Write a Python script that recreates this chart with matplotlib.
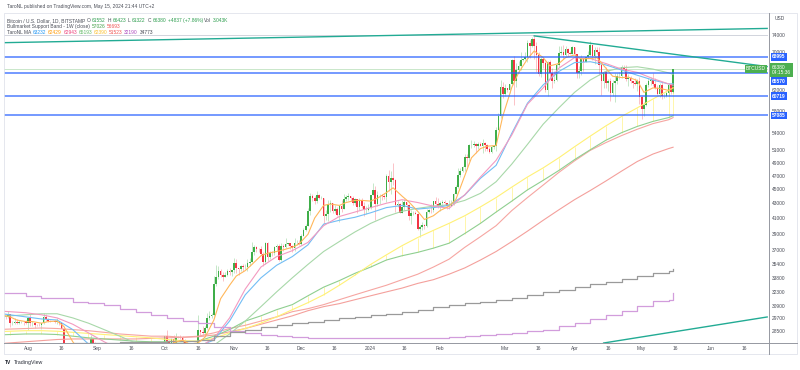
import numpy as np
import pandas as pd
import matplotlib
matplotlib.use("Agg")
import matplotlib.pyplot as plt
import matplotlib.dates as mdates
import matplotlib.transforms as mtransforms
from matplotlib.lines import Line2D
from matplotlib.patches import Rectangle
from matplotlib.ticker import FixedLocator, NullLocator

plt.rcParams['font.family'] = ['Liberation Sans', 'DejaVu Sans']

W, H = 800, 370

# BTCUSD daily candles, BITSTAMP, 21 Jul 2023 .. 15 May 2024
candle_start = '2023-07-21'
first_open = 29800
closes = [
    # Jul
    29910, 29790, 30080, 29180, 29230, 29350, 29220, 29310, 29350, 29280, 29230,
    # Aug
    29700, 29180, 29180, 29070, 29060, 29040, 29180, 29770, 29570, 29440, 29400, 29420, 29290, 29410, 29170, 28700,
    26620, 26050, 26100, 26190, 26120, 26040, 26430, 26160, 26050, 26010, 26090, 26100, 27720, 27300, 25930,
    # Sep
    25800, 25870, 25970, 25820, 25790, 25750, 26240, 25900, 25890, 25830, 25160, 25840, 26220, 26530, 26600,
    26570, 26530, 26760, 27210, 27130, 26570, 26580, 26580, 26250, 26300, 26210, 26350, 27030, 26910, 26970,
    # Oct
    27990, 27500, 27430, 27790, 27410, 27950, 27970, 27940, 27590, 27390, 26870, 26750, 26860, 26860, 27160, 28520,
    28410, 28330, 28720, 29680, 29910, 29990, 33090, 33920, 34500, 34160, 33910, 34090, 34540, 34490, 34640,
    # Nov
    35430, 34940, 34730, 35080, 35040, 35040, 35420, 35630, 36690, 37310, 37130, 37070, 36490, 35550, 37860,
    36160, 36600, 36580, 37380, 37470, 35810, 37420, 37290, 37720, 37790, 37450, 37240, 37830, 37850, 37710,
    # Dec
    38690, 39470, 39970, 41980, 44080, 43770, 43290, 44170, 43720, 43790, 41240, 41480, 42890, 43020, 41940, 42260,
    41360, 42660, 42270, 43650, 43860, 43990, 43720, 43010, 43580, 42520, 43440, 42580, 42070, 42140, 42280,
    # Jan
    44180, 44950, 42840, 44150, 44160, 43970, 43930, 46970, 46110, 46630, 46340, 42780, 42840, 41730, 42510, 43140,
    42740, 41260, 41620, 41670, 41560, 39530, 39840, 40080, 39950, 41810, 42120, 42030, 43300, 42950, 42580,
    # Feb
    43080, 43190, 43000, 42580, 42660, 43090, 44340, 45300, 47130, 47770, 48300, 49950, 49730, 51830, 51920,
    52140, 51650, 52120, 51780, 52260, 51850, 51300, 50740, 51570, 51730, 54490, 57060, 62500, 61170,
    # Mar
    62440, 62030, 63130, 68300, 63780, 66100, 66900, 68300, 68500, 69000, 72100, 71480, 73100, 71400, 69400, 65300,
    68400, 67600, 61900, 67900, 65500, 63800, 64000, 67200, 69900, 69990, 69450, 70780, 69890, 69680, 71300,
    # Apr
    69700, 65500, 65980, 68500, 67850, 68900, 69360, 71620, 69140, 70600, 70060, 67190, 63900, 65700, 63420,
    63800, 61280, 63470, 63820, 64940, 64940, 66840, 66400, 64290, 64480, 63760, 63420, 63110, 63840, 60650,
    # May
    58250, 59120, 62890, 63890, 64030, 63160, 62310, 61190, 63080, 60790, 60800, 61460, 62900, 61552, 66380,
]
highs = [
    30050, 29990, 30330, 30100, 29370, 29680, 29570, 29520, 29410, 29450, 29520,
    29750, 30040, 29420, 29320, 29110, 29170, 29250, 30220, 30120, 29700, 29520, 29450, 29460, 29660, 29450, 29230,
    28790, 26830, 26260, 26300, 26240, 26130, 26800, 26560, 26290, 26100, 26170, 26230, 28140, 27760, 27480,
    26140, 25970, 26120, 26070, 25880, 26000, 26420, 26440, 25930, 26020, 25880, 26530, 26390, 26800, 26870,
    26670, 26620, 27420, 27470, 27380, 27150, 26730, 26630, 26730, 26410, 26380, 26820, 27300, 27230, 27080,
    28060, 28600, 27680, 27840, 28120, 28280, 28040, 28100, 27990, 27740, 27470, 26820, 27100, 26970, 27290, 30000,
    28600, 28980, 28900, 30210, 30350, 30200, 34000, 35200, 35100, 34830, 34470, 34480, 34760, 34870, 34720,
    35980, 35950, 34920, 35250, 35400, 35290, 35900, 35980, 37980, 37520, 37400, 37250, 37420, 36770, 37980,
    37930, 36870, 36850, 37500, 37750, 37650, 37860, 37650, 38430, 37880, 37830, 37570, 38400, 38180, 38150,
    38960, 39670, 40200, 42400, 44480, 44300, 44050, 44710, 44370, 44050, 43800, 42100, 43420, 43410, 43080, 42720,
    42420, 42740, 43480, 44280, 44220, 44400, 43990, 43950, 43790, 43600, 43680, 43790, 43120, 42610, 42890,
    44200, 45900, 45500, 44770, 44330, 44240, 44480, 47220, 47890, 47690, 48970, 46500, 43250, 43080, 43390, 43560,
    43200, 42930, 42130, 41880, 41890, 41670, 40140, 40500, 40260, 42200, 42230, 42840, 43320, 43850, 43730,
    43260, 43480, 43390, 43100, 43500, 43400, 44480, 45590, 48180, 48150, 48550, 50360, 50370, 52040, 52820,
    52570, 52160, 52360, 52480, 52960, 52370, 52050, 51550, 51960, 51950, 54920, 57560, 64000, 63650,
    63200, 62400, 63240, 68500, 69200, 67650, 67950, 69950, 68600, 70000, 72800, 72900, 73600, 73800, 72350, 70000,
    68900, 68900, 68100, 68000, 68200, 66600, 65900, 67600, 71500, 71500, 71700, 71500, 70900, 70300, 71370,
    71300, 69700, 66900, 69300, 68700, 69000, 70300, 72700, 71700, 71200, 71200, 71300, 67900, 65900, 66800,
    64300, 64450, 64100, 65400, 65400, 65700, 67200, 67200, 67100, 65300, 64800, 63900, 64400, 64200, 64700,
    60800, 59600, 63300, 64500, 64600, 65500, 64400, 62900, 63300, 63500, 61400, 61800, 63400, 63100, 66423,
]
lows = [
    29720, 29640, 29730, 28860, 29050, 29100, 29080, 29120, 29260, 29030, 29110,
    28600, 28970, 28960, 28760, 28950, 28970, 28700, 29110, 29380, 29340, 29340, 29360, 29260, 29100, 29070, 28690,
    25200, 25620, 25800, 25960, 25850, 25370, 25800, 25860, 25790, 25980, 25980, 25880, 25920, 27050, 25660,
    25350, 25720, 25820, 25650, 25580, 25370, 25610, 25650, 25800, 25600, 24900, 25150, 25770, 26130, 26220,
    26480, 26420, 26390, 26680, 26830, 26400, 26480, 26520, 26150, 25990, 26100, 26100, 26340, 26700, 26880,
    26950, 27330, 27190, 27230, 27350, 27200, 27860, 27730, 27270, 27320, 26560, 26540, 26690, 26820, 26830, 27120,
    28100, 28150, 28190, 28610, 29460, 29690, 29880, 32900, 33710, 33880, 33460, 33880, 34040, 34080, 34050,
    34340, 34300, 34110, 34560, 34550, 34740, 34550, 35140, 35600, 36400, 36770, 36770, 36340, 35100, 35370,
    35700, 35920, 36240, 36420, 36800, 35660, 35650, 36900, 37260, 37600, 37150, 36720, 36900, 37630, 37590,
    37620, 38640, 39270, 39970, 41410, 43350, 42850, 43100, 43600, 43600, 40220, 40680, 40630, 41800, 41680, 41700,
    41270, 40540, 41840, 42200, 43330, 43420, 43300, 42790, 42740, 41680, 42100, 42330, 41300, 41530, 41970,
    42180, 44190, 40750, 42630, 42840, 43430, 43600, 43220, 44800, 44350, 45620, 41750, 42440, 41720, 41730, 42060,
    42200, 40680, 40280, 41450, 41500, 39460, 38550, 39480, 39520, 39830, 41630, 41640, 41800, 42700, 42300,
    41880, 42560, 42830, 42270, 42270, 42580, 42770, 44340, 45230, 46840, 47560, 47690, 48350, 49270, 51330,
    51580, 50620, 51220, 51700, 50600, 50830, 50920, 50540, 50600, 51270, 50920, 54450, 56700, 60400,
    60800, 61600, 61300, 62900, 59000, 62500, 65500, 66200, 68100, 68200, 67800, 68800, 71300, 68600, 65600, 64800,
    64600, 66600, 61500, 60800, 64500, 62300, 63300, 63800, 66700, 69300, 68400, 68900, 69200, 69600, 69630,
    68150, 64500, 64500, 65100, 66000, 67800, 68800, 69100, 68200, 67500, 69600, 65100, 60900, 62300, 62400,
    61700, 59800, 60800, 59600, 63100, 64300, 64500, 65800, 63800, 62800, 63300, 62400, 62900, 61800, 59200,
    56500, 56900, 58800, 62600, 62900, 62700, 62200, 60900, 60600, 60200, 60400, 60600, 60800, 61100, 61322,
]

# weekly readings of the slower averages (Mondays 17 Jul 2023 .. 13 May 2024, then 15 May)
ma_week_start = '2023-07-17'
ma_last_day = '2024-05-15'
ma_blue = [30200, 30000, 29800, 29600, 29500, 28600, 27300, 26300, 26000, 26100, 26200, 26500, 26800, 27100, 27650,
           29400, 32000, 33800, 35200, 36200, 37600, 40200, 40700, 41100, 41700, 42400, 42700, 42200, 42400, 42700,
           44150, 46600, 48600, 53900, 59400, 63000, 65800, 67700, 67900, 67200, 66100, 65000, 64000, 63200, 63232]
ma_pink = [30400, 30300, 30200, 30000, 29700, 29100, 28300, 27500, 26800, 26300, 26200, 26400, 26800, 27000, 27800,
           29700, 32600, 35000, 36200, 36900, 37900, 40000, 41200, 41800, 42400, 43000, 43500, 43100, 42600, 42300,
           44200, 46800, 49400, 53600, 59200, 62400, 66500, 68800, 68600, 67500, 66300, 65600, 64300, 63200, 62943]
ma_lgreen = [29700, 29900, 30000, 30100, 30100, 29700, 29200, 28600, 28000, 27400, 26800, 26500, 26500, 26700, 27200,
             28200, 29400, 30800, 32300, 33800, 35300, 36800, 38000, 39200, 40300, 41200, 41900, 42300, 42600, 42800,
             43400, 44400, 46100, 48800, 52000, 55500, 58500, 61500, 64000, 65800, 66600, 66800, 66300, 65500, 65193]
ma_yellow = [28400, 28450, 28500, 28500, 28450, 28350, 28250, 28150, 28050, 27950, 27850, 27700, 27600, 27550, 27800,
             28300, 28700, 29200, 29800, 30500, 31200, 32000, 33000, 34100, 35300, 36400, 37500, 38500, 39400, 40300,
             41300, 42500, 43800, 45300, 46800, 48200, 49800, 51600, 53400, 55200, 56900, 58500, 60200, 61900, 62390]
band_ema = [28100, 28150, 28200, 28200, 28150, 28000, 27850, 27750, 27650, 27550, 27500, 27500, 27500, 27550, 28000,
            28600, 29400, 29900, 30500, 31000, 31900, 32800, 33500, 34300, 35000, 35800, 36300, 36700, 37200, 37800,
            39000, 40300, 41800, 43300, 44900, 46300, 47800, 49500, 51100, 52700, 54000, 55100, 56000, 56700, 57026]
band_sma = [28600, 28650, 28700, 28750, 28700, 28600, 28500, 28350, 28200, 28100, 28000, 28000, 27900, 28000, 28300,
            28700, 29000, 29400, 29800, 30300, 30600, 31000, 31500, 32000, 32500, 33000, 33600, 34200, 35000, 35900,
            37300, 38600, 40000, 42000, 43800, 45600, 47500, 49300, 51000, 52300, 53500, 54600, 55600, 56300, 56693]
ma_red = [27300, 27400, 27500, 27600, 27700, 27750, 27750, 27750, 27750, 27750, 27800, 27850, 27900, 27950, 28100,
          28400, 28700, 29100, 29500, 29900, 30400, 30800, 31100, 31500, 31900, 32300, 32700, 33200, 33600, 34200,
          34900, 35800, 36800, 38000, 39300, 40700, 42100, 43500, 44800, 46200, 47700, 49200, 50400, 51300, 51523]
ma_purple = [32200, 32150, 31900, 31700, 31650, 31300, 31150, 31000, 30600, 30300, 30000, 29700, 29400, 29200, 28800,
             28500, 28300, 28150, 28000, 27900, 27850, 27850, 27850, 27850, 27850, 27850, 27850, 27850, 27850, 27900,
             28000, 28100, 28200, 28300, 28450, 28600, 28900, 29200, 29600, 29950, 30400, 30900, 31400, 31500, 32190]
ma_gray = [27100, 27150, 27200, 27250, 27300, 27350, 27400, 27400, 27450, 27450, 27500, 27550, 27600, 27700, 28000,
           28400, 28600, 28800, 29000, 29200, 29350, 29500, 29650, 29800, 29950, 30100, 30300, 30500, 30750, 30950,
           31150, 31300, 31450, 31700, 32000, 32250, 32500, 32800, 33100, 33400, 33700, 34000, 34300, 34600, 34773]

# fast average read twice a week (Mondays and Thursdays), then 15 May
ma_fast = [30200, 30000, 29800, 29500, 29350,
           29350, 29200, 29350, 29400, 28900, 27500, 26700, 26300, 26700,
           26200, 25950, 25800, 25900, 26300, 26700, 26500, 26500,
           27000, 27400, 27650, 27300, 27400, 27900, 29500, 31600, 33000,
           34000, 34600, 35300, 36300, 36600, 36800, 37000, 37300, 37700,
           38900, 41000, 42700, 42900, 42700, 43100, 43400, 43400,
           43300, 43700, 44500, 45200, 44000, 43200, 41900, 40800, 41300,
           42000, 42600, 43500, 47000, 49800, 51300, 51700, 51800, 57000,
           62500, 65500, 68500, 70300, 68800, 67000, 67500, 68800,
           69400, 68500, 68600, 68800, 66500, 64800, 64500, 64600, 63900,
           61500, 62400, 62300, 61900, 62429]

# horizontal levels, trend lines and last price
levels = [68995, 65570, 60719, 57085]
level_label_y = [68995, 63800, 60719, 57085]
trend_top = (['2023-07-21', '2024-06-26'], [72200, 75600])
trend_down = (['2024-03-14', '2024-06-26'], [73800, 66850])
trend_bottom = (['2024-04-14', '2024-06-26'], [27390, 29790])
last_price = 66380
range_high = 74100

y_ticks = [74000, 70000, 62000, 58000, 54000, 51000, 49000, 47000, 45000, 43000, 41000,
           39000, 37000, 35400, 33800, 32300, 30900, 29700, 28500]
x_tick_dates = ['2023-08-01', '2023-08-16', '2023-09-01', '2023-09-16', '2023-10-01', '2023-10-16',
                '2023-11-01', '2023-11-16', '2023-12-01', '2023-12-16', '2024-01-01', '2024-01-16',
                '2024-02-01', '2024-03-01', '2024-03-16', '2024-04-01', '2024-04-16', '2024-05-01',
                '2024-05-16', '2024-06-01', '2024-06-16']
x_tick_labels = ['Aug', '16', 'Sep', '16', 'Oct', '16', 'Nov', '16', 'Dec', '16', '2024', '16',
                 'Feb', 'Mar', '16', 'Apr', '16', 'May', '16', 'Jun', '16']

UP = '#3fae49'
DOWN = '#f23645'
TXT = '#4a4d57'
FS = 3.5

dates = pd.date_range(candle_start, periods=len(closes), freq='D')
assert len(closes) == len(highs) == len(lows) == 300
ma_dates = list(pd.date_range(ma_week_start, periods=44, freq='7D')) + [pd.Timestamp(ma_last_day)]
fast_dates = sorted(list(pd.date_range(ma_week_start, '2024-05-13', freq='W-MON'))
                    + list(pd.date_range(ma_week_start, '2024-05-13', freq='W-THU')))
fast_dates = fast_dates + [pd.Timestamp(ma_last_day)]
assert len(fast_dates) == len(ma_fast)

fig = plt.figure(figsize=(W / 100, H / 100), dpi=100, facecolor='white')
ax = fig.add_axes([4 / W, 1 - 343 / H, 764 / W, 330 / H])
ax.set_yscale('log')

# moving averages
ax.vlines(ma_dates, band_ema, ma_yellow, color='#fff59d', lw=0.6, zorder=2)
for vals, col in [(ma_red, '#f4a09c'), (band_sma, '#f6a6a2'), (band_ema, '#8fcf90'),
                  (ma_yellow, '#fff176'), (ma_lgreen, '#a8d8a9'), (ma_blue, '#72bdf5'),
                  (ma_pink, '#f39ac0')]:
    ax.plot(ma_dates, vals, color=col, lw=0.8, zorder=4)
ax.plot(ma_dates, ma_purple, color='#d29ddc', lw=0.9, drawstyle='steps-post', zorder=4)
ax.plot(ma_dates, ma_gray, color='#9a9a9a', lw=0.9, drawstyle='steps-post', zorder=4)
ax.plot(fast_dates, ma_fast, color='#ffb75a', lw=0.8, zorder=4)

# candles
o = np.array([first_open] + closes[:-1], dtype=float)
c = np.array(closes, dtype=float)
hi = np.array(highs, dtype=float)
lo = np.array(lows, dtype=float)
up = c >= o
x = mdates.date2num(dates)
ax.vlines(x[up], lo[up], hi[up], color=UP, alpha=0.35, lw=0.6, zorder=3)
ax.vlines(x[~up], lo[~up], hi[~up], color=DOWN, alpha=0.35, lw=0.6, zorder=3)
ax.bar(x[up], (c - o)[up], bottom=o[up], width=0.72, color=UP, zorder=3.5, linewidth=0)
ax.bar(x[~up], (o - c)[~up], bottom=c[~up], width=0.72, color=DOWN, zorder=3.5, linewidth=0)

# drawings
for lv in levels:
    ax.axhline(lv, color='#2962ff', alpha=0.7, lw=1.3, zorder=5)
ax.axhline(last_price, color='#4caf50', alpha=0.3, lw=0.7, zorder=2)
ax.axhline(range_high, color='#d1d4dc', lw=0.7, zorder=2)
for d, p in [trend_top, trend_down, trend_bottom]:
    ax.plot(pd.to_datetime(d), p, color='#22ab94', lw=1.0, zorder=5)

ax.set_xlim(pd.Timestamp('2023-07-21 07:00'), pd.Timestamp('2024-06-26 09:00'))
ax.set_ylim(27390, 79460)

ax.yaxis.tick_right()
ax.yaxis.set_major_locator(FixedLocator(y_ticks))
ax.yaxis.set_minor_locator(NullLocator())
ax.set_yticklabels([str(t) for t in y_ticks])
ax.set_xticks(pd.to_datetime(x_tick_dates))
ax.set_xticklabels(x_tick_labels)
ax.tick_params(axis='y', length=0, pad=2.6, labelsize=FS, labelcolor=TXT)
ax.tick_params(axis='x', length=0, pad=2.2, labelsize=FS, labelcolor=TXT)
for s in ax.spines.values():
    s.set_visible(False)


def fx(px):
    return px / W


def fy(py):
    return 1 - py / H


# frame and axis lines
fig.add_artist(Rectangle((fx(4), fy(354)), fx(793), 341 / H, transform=fig.transFigure,
                         fill=False, edgecolor='#e0e3eb', lw=0.6))
fig.add_artist(Line2D([fx(4), fx(797)], [fy(343), fy(343)], transform=fig.transFigure,
                      color='#9598a1', lw=0.7))
fig.add_artist(Line2D([fx(768.5), fx(768.5)], [fy(13), fy(354)], transform=fig.transFigure,
                      color='#9598a1', lw=0.7))

# price labels on the scale
lab_tr = mtransforms.blended_transform_factory(ax.transAxes, ax.transData)
for lv, ly in zip(levels, level_label_y):
    ax.text(1 + 4 / 764, ly, str(lv), transform=lab_tr, ha='left', va='center', fontsize=FS,
            color='white', fontweight='bold', clip_on=False,
            bbox=dict(boxstyle='square,pad=0.3', fc='#2962ff', ec='none'))
ax.text(1 + 4 / 764, 67250, '66380\n04:15:36', transform=lab_tr, ha='left', va='top', fontsize=FS,
        color='white', linespacing=1.15, clip_on=False,
        bbox=dict(boxstyle='square,pad=0.35', fc='#4caf50', ec='none'))
ax.text(1 - 2 / 764, last_price, 'BTCUSD', transform=lab_tr, ha='right', va='center', fontsize=FS,
        color='white', clip_on=False, zorder=6,
        bbox=dict(boxstyle='square,pad=0.3', fc='#4caf50', ec='none'))
fig.text(fx(775), fy(18.5), 'USD', fontsize=FS, color=TXT, va='center', ha='left')

# header, legend and footer
fig.text(fx(7), fy(6.5), 'TaroNL published on TradingView.com, May 15, 2024 21:44 UTC+2',
         fontsize=FS, color=TXT, va='center', ha='left')

renderer = fig.canvas.get_renderer()


def put_row(x_px, y_px, parts, gap=1.6):
    xpos = x_px
    for s, col in parts:
        t = fig.text(fx(xpos), fy(y_px), s, color=col, fontsize=FS, va='center', ha='left')
        bb = t.get_window_extent(renderer=renderer)
        xpos = bb.x1 + gap


G = '#2e9e4f'
put_row(7, 20.8, [('Bitcoin / U.S. Dollar, 1D, BITSTAMP', TXT), ('O', TXT), ('61552', G), ('H', TXT),
                  ('66423', G), ('L', TXT), ('61322', G), ('C', TXT), ('66380', G),
                  ('+4837 (+7.86%)', G), ('Vol', TXT), ('3.043K', G)])
put_row(7, 26.3, [('Bullmarket Support Band - 1W (close)', TXT), ('57026', '#43a047'), ('56693', '#ef5350')])
put_row(7, 32.2, [('TaroNL MA', TXT), ('63232', '#2196f3'), ('62429', '#ff9800'), ('62943', '#ec407a'),
                  ('65193', '#66bb6a'), ('62390', '#fbc02d'), ('51523', '#ef5350'), ('32190', '#ab47bc'),
                  ('34773', '#434651')])

put_row(5, 362.5, [('TV', '#131722')], gap=1.5)
fig.texts[-1].set_fontweight('bold')
fig.text(fx(14), fy(362.5), 'TradingView', fontsize=FS + 0.3, color='#2a2e39', va='center', ha='left')

fig.savefig('out.png', dpi=100, facecolor='white')
